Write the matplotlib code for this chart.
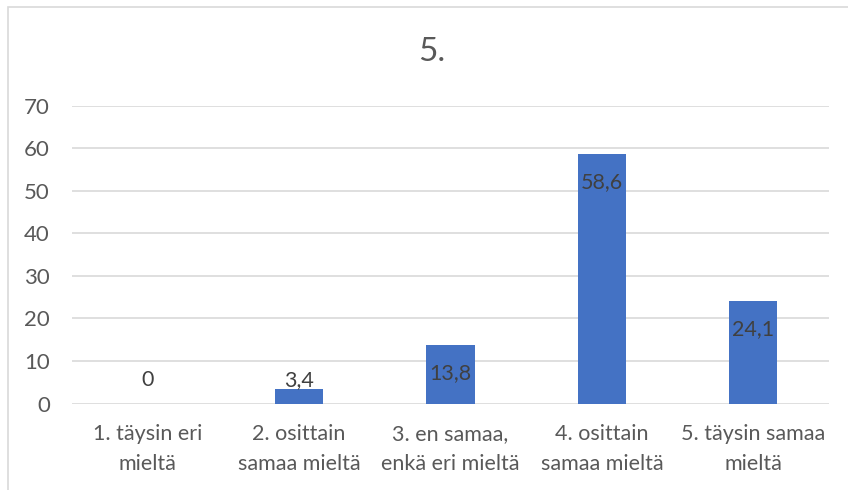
import matplotlib
matplotlib.use("Agg")
import matplotlib.pyplot as plt
from matplotlib.patches import Rectangle

# data
categories = ["1. täysin eri\nmieltä", "2. osittain\nsamaa mieltä", "3. en samaa,\nenkä eri mieltä",
              "4. osittain\nsamaa mieltä", "5. täysin samaa\nmieltä"]
values = [0, 3.4, 13.8, 58.6, 24.1]
yticks = [0, 10, 20, 30, 40, 50, 60, 70]

plt.rcParams['font.family'] = ['Lato', 'DejaVu Sans']

W, H = 848, 490
fig = plt.figure(figsize=(W / 100, H / 100), dpi=100)
ax = fig.add_axes([72 / W, (H - 403.5) / H, (829 - 72) / W, (403.5 - 105.7) / H])

x = range(len(categories))
ax.bar(x, values, width=0.318, color="#4472C4", zorder=3)

for i, v in enumerate(values):
    ypos = max(v - 6.6, 5.5)
    ax.text(i, ypos, f"{v:g}".replace(".", ","), ha="center", va="center",
            fontsize=15.5, color="#404040", zorder=4)

ax.set_xlim(-0.5, len(categories) - 0.5)
ax.set_ylim(0, 70)
ax.set_yticks(yticks)
ax.set_xticks(list(x))
ax.set_xticklabels(categories, linespacing=1.62)
ax.tick_params(axis="y", length=0, pad=16, labelsize=16, labelcolor="#595959")
ax.tick_params(axis="x", length=0, pad=15, labelsize=15.5, labelcolor="#595959")
ax.grid(axis="y", color="#D9D9D9", linewidth=1.2, zorder=0)
for s in ax.spines.values():
    s.set_visible(False)

fig.text(432 / W, (H - 52) / H, "5.", ha="center", va="center", fontsize=24, color="#595959")

# chart border (only top and left fall inside the picture)
fig.patches.append(Rectangle((8 / W, -0.1), 2, (H - 7) / H + 0.1, transform=fig.transFigure,
                             fill=False, edgecolor="#D9D9D9", linewidth=1.2))

fig.savefig("out.png", dpi=100, facecolor="white")
